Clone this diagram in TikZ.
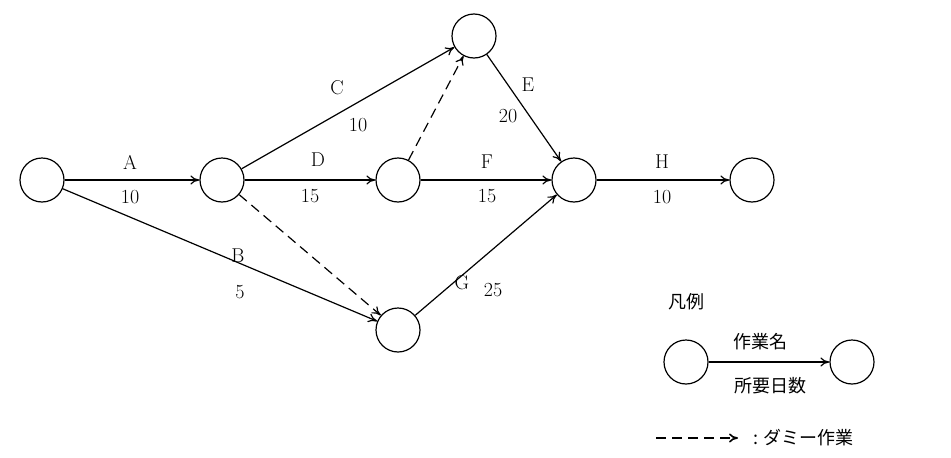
\documentclass[tikz,border=0pt]{standalone}
\usepackage{fontspec}
\newfontfamily\cjk{Noto Sans CJK JP}
\usetikzlibrary{arrows.meta}
\begin{document}
\begin{tikzpicture}[x=1pt,y=-1pt,
  ev/.style={circle,draw,line width=1.2pt,minimum size=44pt,inner sep=0pt},
  act/.style={line width=1.2pt,-{To[length=9pt,width=9pt]}},
  dum/.style={act,dash pattern=on 10pt off 6pt},
  lb/.style={font=\fontsize{20}{22}\selectfont},
  jp/.style={font=\cjk\fontsize{18}{21}\selectfont}]
\useasboundingbox (0,0) rectangle (951,458);
\node[ev] (n1) at (42,180) {};
\node[ev] (n2) at (222,180) {};
\node[ev] (n3) at (398,180) {};
\node[ev] (n4) at (474,36) {};
\node[ev] (n5) at (574,180) {};
\node[ev] (n6) at (752,180) {};
\node[ev] (n7) at (398,330) {};
\draw[act] (n1) -- (n2);
\draw[act] (n1) -- (n7);
\draw[act] (n2) -- (n4);
\draw[act] (n2) -- (n3);
\draw[dum] (n2) -- (n7);
\draw[dum] (n3) -- (n4);
\draw[act] (n3) -- (n5);
\draw[act] (n4) -- (n5);
\draw[act] (n7) -- (n5);
\draw[act] (n5) -- (n6);
\node[lb] (la) at (130,162) {A}; \node[lb] (la2) at (130,197) {10};
\node[lb] (lb1) at (238,256) {B}; \node[lb] (lb2) at (240,292) {5};
\node[lb] (lc) at (337,88) {C}; \node[lb] (lc2) at (358,125) {10};
\node[lb] (ld) at (318,160) {D}; \node[lb] (ld2) at (310,196) {15};
\node[lb] (le) at (528,85) {E}; \node[lb] (le2) at (508,116) {20};
\node[lb] (lf) at (487,162) {F}; \node[lb] (lf2) at (487,196) {15};
\node[lb] (lg) at (462,283) {G}; \node[lb] (lg2) at (493,290) {25};
\node[lb] (lh) at (662,162) {H}; \node[lb] (lh2) at (662,197) {10};
\node[jp] (leg) at (686,302) {凡例};
\node[ev] (l1) at (686,362) {};
\node[ev] (l2) at (852,362) {};
\draw[act] (l1) -- (l2);
\node[jp] (lname) at (760,342) {作業名};
\node[jp] (ldays) at (770,386) {所要日数};
\coordinate (d1) at (656,438); \coordinate (d2) at (738,438);
\draw[dum,line width=1.6pt] (d1) -- (d2);
\node[jp,anchor=west] (ldum) at (750,438) {: ダミー作業};
\end{tikzpicture}
\end{document}
